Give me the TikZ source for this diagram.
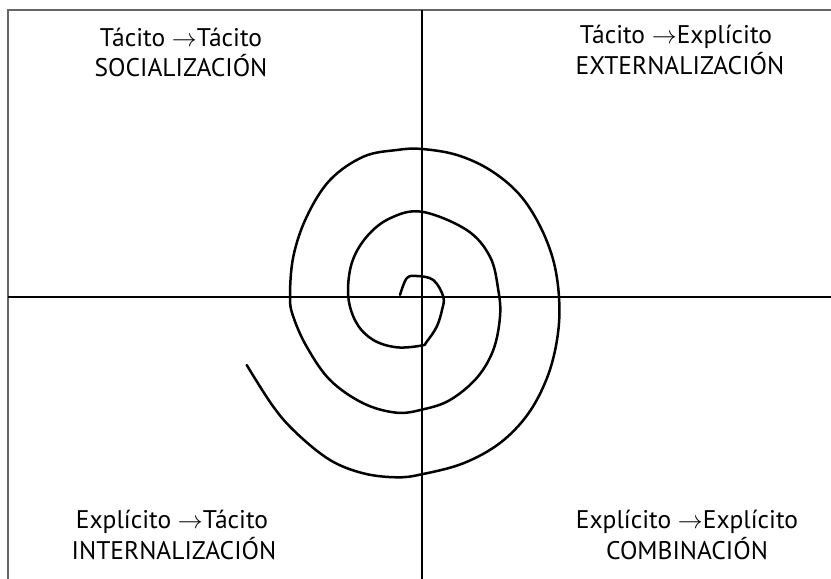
\documentclass[tikz,border=0pt]{standalone}
\usepackage{fontspec}
\setmainfont{PT Sans}
\begin{document}
\begin{tikzpicture}[x=1pt,y=-1pt,
  frameline/.style={draw=black!60,line width=1.5pt},
  axisline/.style={draw=black,line width=1.2pt},
  spiralline/.style={draw=black,line width=2.5pt,line cap=round,line join=round},
  lbl/.style={anchor=base,inner sep=0pt,font=\fontsize{25.5}{30}\selectfont}]
\useasboundingbox (0,0) rectangle (831,579);
\coordinate (fbl) at (8,579);
\coordinate (ftl) at (8,10);
\coordinate (ftr) at (831,10);
\coordinate (vt) at (422,10);
\coordinate (vb) at (422,579);
\coordinate (hl) at (8,297);
\coordinate (hr) at (831,297);
\draw[frameline] (fbl) -- (ftl) -- (ftr);
\draw[axisline] (vt) -- (vb);
\draw[axisline] (hl) -- (hr);
\draw[spiralline] plot[smooth,tension=0.6] coordinates {
 (400,295) (406.7,278.3) (416.7,276) (433.3,280) (443.3,296.7) (442,310)
 (436.7,326.7) (426.7,341.7) (421.7,345.5) (396.7,347.3) (373.3,340)
 (356.7,323.3) (348.3,296.7) (351.7,263.3) (366.7,236.7) (390,218.3)
 (421.7,211.7) (466.7,230) (490,256.7) (498.3,290) (500,316.7)
 (493.3,350) (476.7,378) (450,400) (423.3,409.3) (396.7,412.7)
 (363.3,403.3) (330,380) (306.7,346.7) (293.3,316.7) (290,297)
 (293.3,256.7) (306.7,216.7) (330,180) (363.3,156.7) (396.7,150)
 (422,149) (457,155) (490,170) (519,194) (540,226) (554,263) (559.3,303)
 (557,340) (547,378) (528,414) (500,443) (463.3,463.3) (421.7,474.3)
 (396.7,477.3) (363.3,473.3) (330,460) (296.7,433.3) (273.3,406.7) (246.7,365)};
\node[lbl] (tl1) at (181,46) {Tácito $\rightarrow$Tácito};
\node[lbl] (tl2) at (181,76.5) {SOCIALIZACIÓN};
\node[lbl] (tr1) at (676,43) {Tácito $\rightarrow$Explícito};
\node[lbl] (tr2) at (680,74) {EXTERNALIZACIÓN};
\node[lbl] (bl1) at (172,528) {Explícito $\rightarrow$Tácito};
\node[lbl] (bl2) at (174,559) {INTERNALIZACIÓN};
\node[lbl] (br1) at (687,528) {Explícito $\rightarrow$Explícito};
\node[lbl] (br2) at (687,559) {COMBINACIÓN};
\end{tikzpicture}
\end{document}
